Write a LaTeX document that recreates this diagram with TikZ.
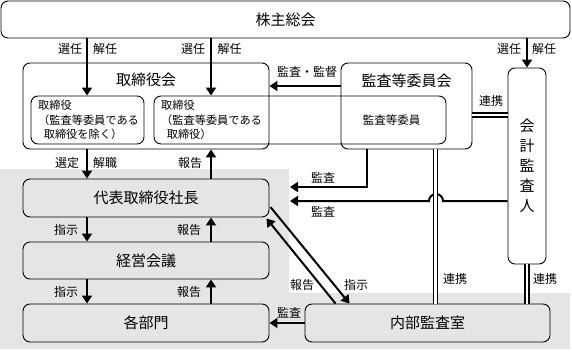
\documentclass[tikz,border=0pt]{standalone}
\usepackage{fontspec}
\setmainfont{Noto Sans CJK JP}
\usetikzlibrary{arrows.meta}
\usetikzlibrary{calc}

\begin{document}
\begin{tikzpicture}[x=1pt,y=-1pt,
  box/.style={draw,line width=0.9pt,rounded corners=7pt,inner sep=0pt},
  big/.style={font=\fontsize{15}{18}\selectfont},
  small/.style={font=\fontsize{12}{14}\selectfont,inner sep=1pt},
  inner/.style={font=\fontsize{11.2}{14.5}\selectfont,align=left,anchor=west,inner sep=0pt},
  arr/.style={line width=2pt,-{Triangle[length=8pt,width=10pt]}},
  link/.style={double,double distance=2.6pt,line width=1.5pt}]
\useasboundingbox (0,0) rectangle (572,351);
% gray area
\fill[black!10] (0,169) -- (289,169) -- (289,293) -- (570,293) -- (570,349) -- (0,349) -- cycle;
% x positions of the arrow columns
\coordinate (cl) at (87,0);
\coordinate (cr) at (211,0);
\coordinate (ck) at (367,0);
\coordinate (cw) at (435.5,0);
% draw boxes
\node[box,big,minimum width=569pt,minimum height=37pt] (soukai) at (285.5,19.5) {株主総会};
\node[box,minimum width=246pt,minimum height=86pt] (torikai) at (146,106) {};
\node[big] (torikaiT) at (146,80) {取締役会};
\node[box,minimum width=113pt,minimum height=48pt] (tori1) at (87.5,120) {};
\node[inner] (tori1T) at (38,120) {取締役\\（監査等委員である\\\hspace{.5em}取締役を除く）};
\node[box,minimum width=292pt,minimum height=48pt] (tori2) at (300,120) {};
\node[inner] (tori2T) at (161,120) {取締役\\（監査等委員である\\\hspace{.5em}取締役）};
\node[box,minimum width=131pt,minimum height=86pt] (kansakai) at (406.5,106) {};
\node[big] (kansakaiT) at (406.5,81) {監査等委員会};
\node[small,font=\fontsize{11.5}{14}\selectfont] (iin) at (391.5,120) {監査等委員};
\node[box,big,align=center,minimum width=38pt,minimum height=196pt,font=\fontsize{15}{20}\selectfont] (kaikei) at (527,166) {会\\計\\監\\査\\人};
\node[box,big,minimum width=246pt,minimum height=38pt] (daihyo) at (146,198) {代表取締役社長};
\node[box,big,minimum width=246pt,minimum height=37pt] (keiei) at (146,260.5) {経営会議};
\node[box,big,minimum width=246pt,minimum height=38pt] (kakubu) at (146,323) {各部門};
\node[box,big,minimum width=245pt,minimum height=38pt] (naibu) at (427.5,323) {内部監査室};
% free ends of the audit arrows
\coordinate (e1) at (290,187);
\coordinate (e2) at (290,201);
% draw arrows from the general meeting
\draw[arr] (soukai.south -| cl) -- (tori1.north -| cl);
\draw[arr] (soukai.south -| cr) -- (tori2.north -| cr);
\draw[arr] (soukai.south -| kaikei) -- (kaikei.north);
\node[small] (s1) at (70,49) {選任};
\node[small] (k1) at (105,49) {解任};
\node[small] (s2) at (193,49) {選任};
\node[small] (k2) at (229.5,49) {解任};
\node[small] (s3) at (509,49) {選任};
\node[small] (k3) at (544,49) {解任};
% audit committee links
\draw[arr] (kansakai.west |- 0,86) -- (torikai.east |- 0,86);
\node[small] (kk) at (307,72) {監査・監督};
\draw[link] (kansakai.east |- 0,115) -- (kaikei.west |- 0,115);
\node[small] (r1) at (491,101) {連携};
% board and president
\draw[arr] (torikai.south -| cl) -- (daihyo.north -| cl);
\draw[arr] (daihyo.north -| cr) -- (torikai.south -| cr);
\node[small] (sen) at (67,163) {選定};
\node[small] (kai) at (105,163) {解職};
\node[small] (h1) at (190,163) {報告};
% audits to the president
\draw[arr] (kansakai.south -| ck) |- (e1);
\node[small] (a1) at (323,178) {監査};
\draw[arr] (kaikei.west |- e2) -- (443,201) arc (0:-180:7) -- (e2);
\node[small] (a2) at (323,212) {監査};
% links to internal audit
\draw[link] (kansakai.south -| cw) -- (naibu.north -| cw);
\node[small] (r2) at (455,279) {連携};
\draw[link] (kaikei.south) -- (naibu.north -| kaikei);
\node[small] (r3) at (545,279) {連携};
% president and internal audit
\draw[arr] ($(daihyo.east)+(1,9)$) -- ($(naibu.north west)+(45,0)$);
\draw[arr] ($(naibu.north west)+(31,0)$) -- ($(daihyo.south east)+(-3,1)$);
\node[small] (h2) at (302,285) {報告};
\node[small] (sj) at (356,285) {指示};
% president, meeting, divisions
\draw[arr] (daihyo.south -| cl) -- (keiei.north -| cl);
\draw[arr] (keiei.north -| cr) -- (daihyo.south -| cr);
\node[small] (sj1) at (66,230) {指示};
\node[small] (h3) at (189,230) {報告};
\draw[arr] (keiei.south -| cl) -- (kakubu.north -| cl);
\draw[arr] (kakubu.north -| cr) -- (keiei.south -| cr);
\node[small] (sj2) at (66,292) {指示};
\node[small] (h4) at (189,292) {報告};
\draw[arr] (naibu.west) -- (kakubu.east);
\node[small] (a3) at (289,313) {監査};
\end{tikzpicture}
\end{document}
